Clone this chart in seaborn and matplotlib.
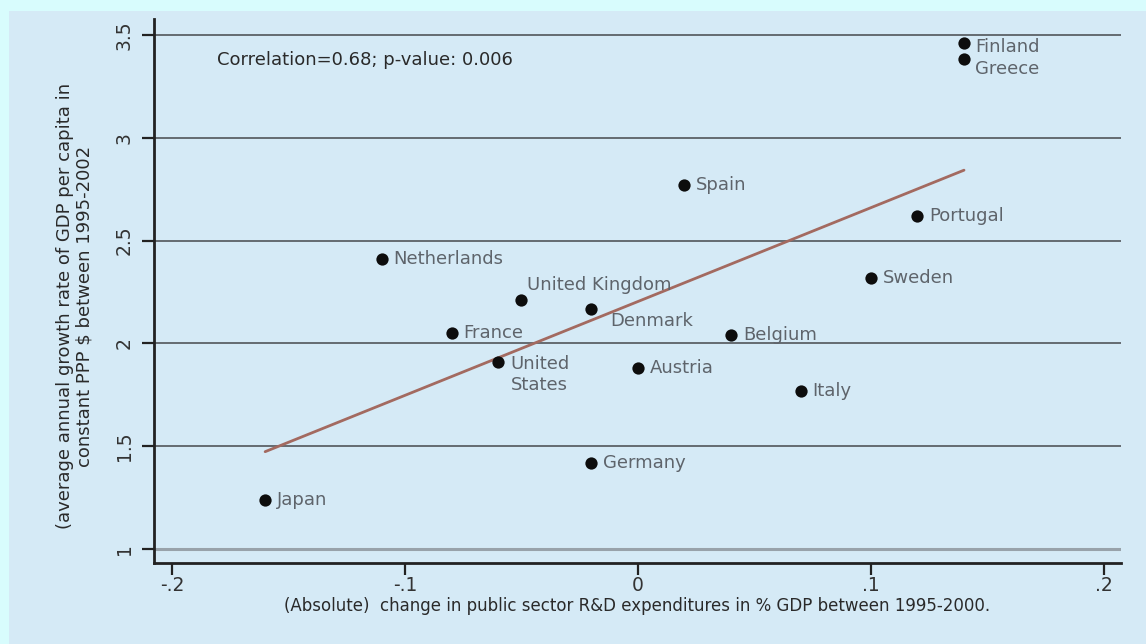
import matplotlib
matplotlib.use("Agg")
import matplotlib.pyplot as plt
import seaborn as sns
import pandas as pd
from matplotlib.patches import Rectangle

# values
countries = ["Finland", "Greece", "Spain", "Portugal", "Netherlands", "Sweden",
             "United Kingdom", "Denmark", "France", "Belgium", "United\nStates",
             "Austria", "Italy", "Germany", "Japan"]
rd_change = [0.14, 0.14, 0.02, 0.12, -0.11, 0.10, -0.05, -0.02, -0.08, 0.04,
             -0.06, 0.00, 0.07, -0.02, -0.16]
gdp_growth = [3.46, 3.38, 2.77, 2.62, 2.41, 2.32, 2.21, 2.17, 2.05, 2.04,
              1.91, 1.88, 1.77, 1.42, 1.24]

x_ticks = [-0.2, -0.1, 0.0, 0.1, 0.2]
x_tick_labels = ["-.2", "-.1", "0", ".1", ".2"]
y_ticks = [1, 1.5, 2, 2.5, 3, 3.5]
y_tick_labels = ["1", "1.5", "2", "2.5", "3", "3.5"]

df = pd.DataFrame({"country": countries, "rd": rd_change, "gdp": gdp_growth})

# label placement (offset in points, vertical alignment)
label_pos = {
    "United Kingdom": ((4, 11), "center"),
    "Denmark": ((14, -9), "center"),
    "United\nStates": ((9, 5), "top"),
    "Finland": ((8, -3), "center"),
    "Greece": ((8, -7), "center"),
}

sns.set_style("white")
plt.rcParams["font.family"] = ["DejaVu Sans"]

fig = plt.figure(figsize=(11.46, 6.44), dpi=100)
fig.patch.set_facecolor("#d8fcfd")
fig.add_artist(Rectangle((9 / 1146, 0), 1, 1 - 11 / 644, transform=fig.transFigure,
                         facecolor="#d5eaf6", edgecolor="none", zorder=0))

ax = fig.add_axes([0.1344, 0.1258, 0.8436, 0.8447])
ax.set_facecolor("#d5eaf6")

sns.regplot(data=df, x="rd", y="gdp", ci=None, ax=ax,
            scatter_kws=dict(s=78, color="#0d0d0d", alpha=1, linewidths=0, zorder=4),
            line_kws=dict(color="#a36a60", lw=2, zorder=3))

for name, xv, yv in zip(countries, rd_change, gdp_growth):
    off, va = label_pos.get(name, ((8.5, 0), "center"))
    ax.annotate(name, (xv, yv), xytext=off, textcoords="offset points",
                ha="left", va=va, fontsize=13, color="#5e646b", zorder=5)

ax.text(0.0651, 0.9246, "Correlation=0.68; p-value: 0.006", transform=ax.transAxes,
        ha="left", va="center", fontsize=13, color="#2a2a2a")

ax.set_xlim(-0.2077, 0.2073)
ax.set_ylim(0.9334, 3.5768)
ax.set_xticks(x_ticks)
ax.set_xticklabels(x_tick_labels, fontsize=13.5, color="#333333")
ax.set_yticks(y_ticks)
ax.set_yticklabels(y_tick_labels, fontsize=13.5, color="#333333", rotation=90, va="center")

for y in y_ticks:
    if y == y_ticks[0]:
        ax.axhline(y, color="#98a2aa", lw=2.2, zorder=1)
    else:
        ax.axhline(y, color="#5c6166", lw=1.3, zorder=1)

for side in ["top", "right"]:
    ax.spines[side].set_visible(False)
for side in ["left", "bottom"]:
    ax.spines[side].set_color("#222222")
    ax.spines[side].set_linewidth(2)
ax.tick_params(axis="both", direction="out", length=8.5, width=1.6, color="#222222",
               bottom=True, left=True)
ax.tick_params(axis="x", pad=1)
ax.tick_params(axis="y", pad=6)

ax.set_xlabel("(Absolute)  change in public sector R&D expenditures in % GDP between 1995-2000.",
              fontsize=12, color="#2a2a2a")
ax.set_ylabel("(average annual growth rate of GDP per capita in\nconstant PPP $ between 1995-2002",
              fontsize=13, color="#2a2a2a", multialignment="center", linespacing=1.05)
ax.xaxis.set_label_coords(0.5, -0.062)
ax.yaxis.set_label_coords(-0.063, 0.472)

fig.savefig("out.png", dpi=100, facecolor=fig.get_facecolor())
